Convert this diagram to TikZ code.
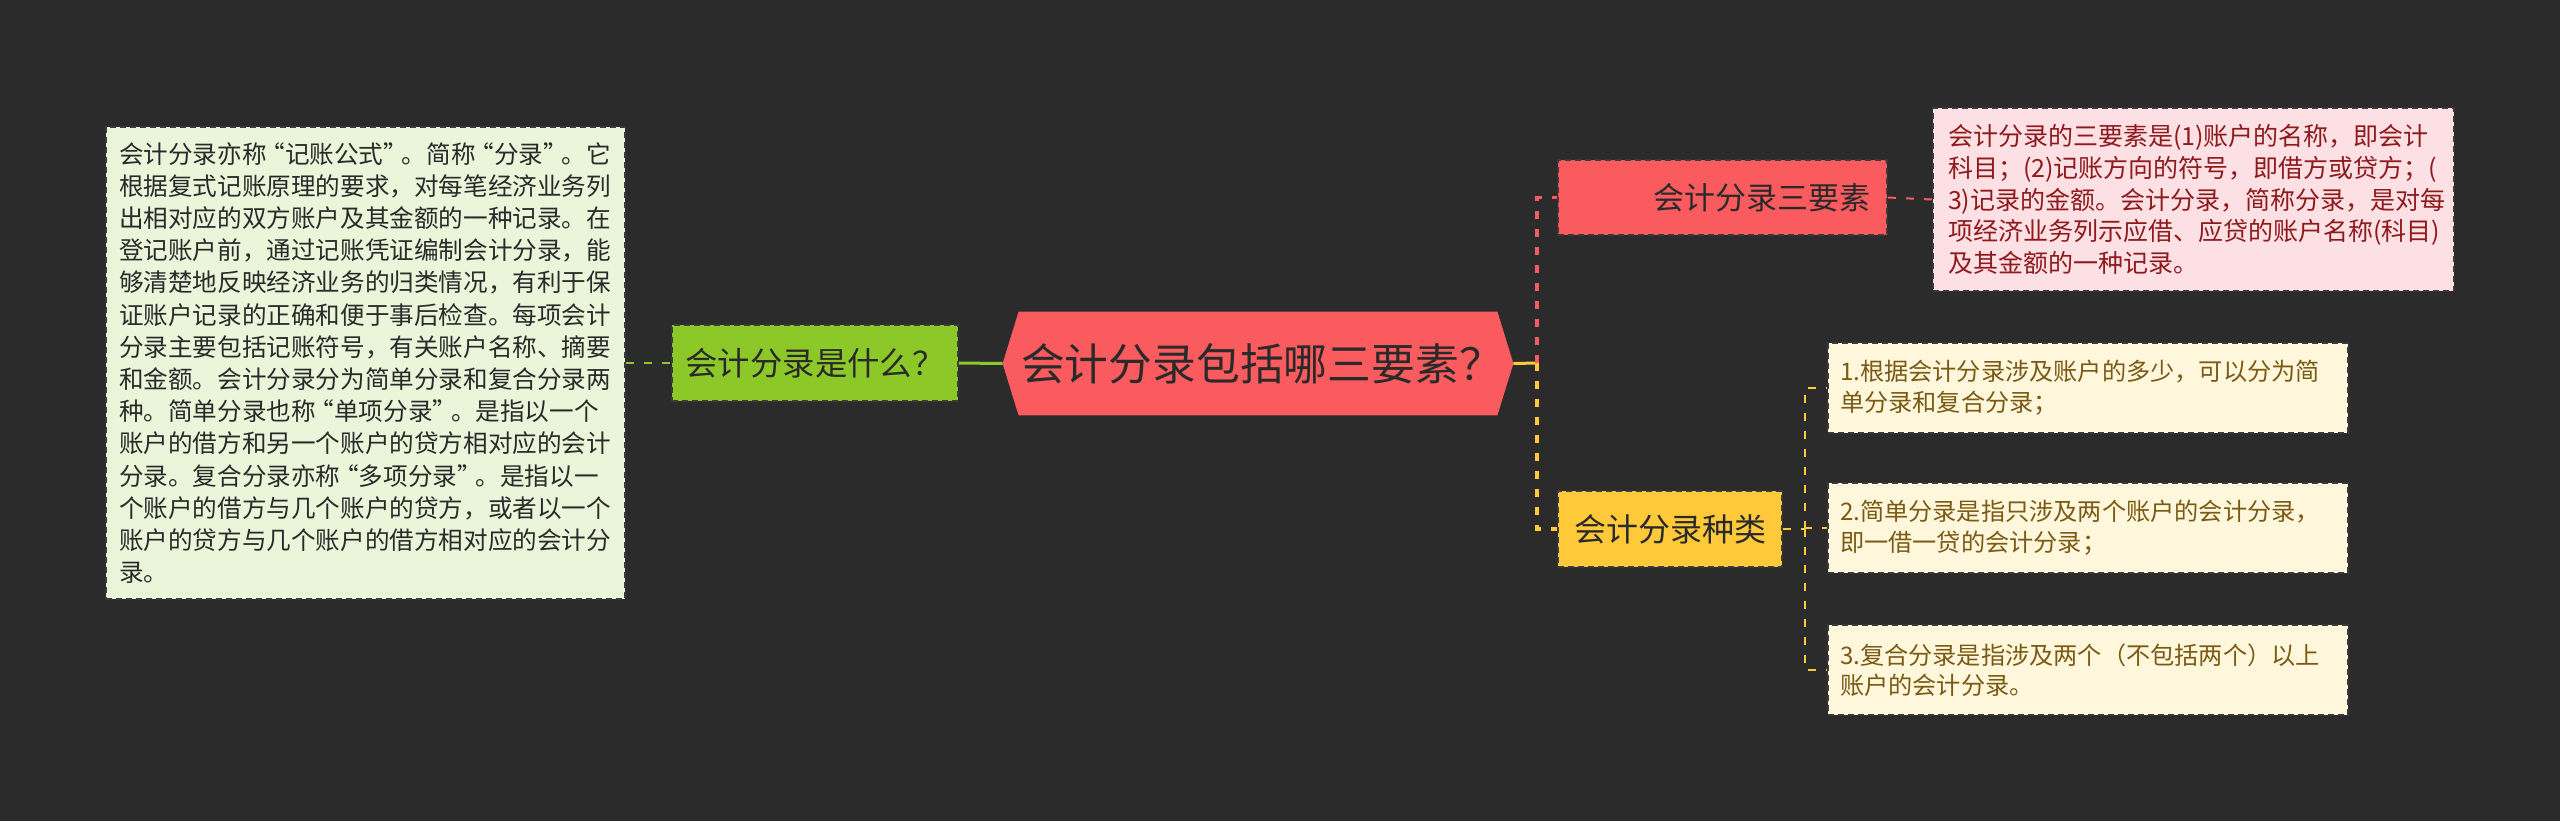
\documentclass[tikz,border=0pt]{standalone}
\usepackage{fontspec}
\newfontfamily\cjk{Noto Sans CJK SC}
\usepackage{tikz}
\usetikzlibrary{backgrounds}
\definecolor{bgdark}{HTML}{2B2B2B}
\definecolor{edgeline}{HTML}{3A3A3A}
\definecolor{rootred}{HTML}{FA5B5F}
\definecolor{leafgreen}{HTML}{8BC828}
\definecolor{gold}{HTML}{FFC93A}
\definecolor{greennote}{HTML}{EAF5DA}
\definecolor{pinknote}{HTML}{FCE0E3}
\definecolor{pinktext}{HTML}{8E1A1E}
\definecolor{beigenote}{HTML}{FFF7DC}
\definecolor{beigetext}{HTML}{7A5A14}
\definecolor{darktext}{HTML}{2A2A2A}
\newcommand{\oq}{\makebox[0.75em][r]{“}}
\newcommand{\cq}{\makebox[0.75em][l]{”}}
\tikzset{
  topic/.style = {draw=edgeline, dashed, dash pattern=on 3pt off 2pt, line width=0.8pt,
                  text=darktext, inner sep=0pt, align=center},
  note/.style  = {topic, align=left, inner ysep=0pt},
  lnk/.style   = {line width=1pt, dash pattern=on 4pt off 5pt},
  solidlnk/.style = {line width=1.5pt}
}

\begin{document}
\begin{tikzpicture}[x=0.5pt, y=-0.5pt]
  \begin{scope}[on background layer]
    \fill[bgdark] (0,0) rectangle (2560,821);
  \end{scope}
  \useasboundingbox (0,0) rectangle (2560,821);

  % central topic
  \node[inner sep=0pt, minimum width=255pt, minimum height=51.5pt, text=darktext,
        font=\cjk\fontsize{21.9pt}{26pt}\selectfont] (root) at (1258,363.5)
       {\hspace*{4pt}会计分录包括哪三要素？};

  % left branch
  \node[topic, fill=leafgreen, minimum width=143pt, minimum height=38pt,
        font=\cjk\fontsize{16.2pt}{19pt}\selectfont] (what) at (815,363) {会计分录是什么？};
  \node[note, fill=greennote, text=darktext, minimum width=259.5pt, minimum height=236pt,
        inner xsep=6.5pt, text width=246.5pt,
        font=\cjk\fontsize{12.3pt}{16.1pt}\selectfont] (whatnote) at (365.5,363)
       {会计分录亦称\oq 记账公式\cq 。简称\oq 分录\cq 。它\\
        根据复式记账原理的要求，对每笔经济业务列\\
        出相对应的双方账户及其金额的一种记录。在\\
        登记账户前，通过记账凭证编制会计分录，能\\
        够清楚地反映经济业务的归类情况，有利于保\\
        证账户记录的正确和便于事后检查。每项会计\\
        分录主要包括记账符号，有关账户名称、摘要\\
        和金额。会计分录分为简单分录和复合分录两\\
        种。简单分录也称\oq 单项分录\cq 。是指以一个\\
        账户的借方和另一个账户的贷方相对应的会计\\
        分录。复合分录亦称\oq 多项分录\cq 。是指以一\\
        个账户的借方与几个账户的贷方，或者以一个\\
        账户的贷方与几个账户的借方相对应的会计分\\
        录。};

  % right branches
  \node[topic, fill=rootred, minimum width=164.5pt, minimum height=37.5pt,
        inner xsep=8.5pt, text width=147.5pt, align=right,
        font=\cjk\fontsize{15.5pt}{18pt}\selectfont] (three) at (1722.5,197.5) {会计分录三要素};
  \node[note, fill=pinknote, text=pinktext, minimum width=260.5pt, minimum height=91.5pt,
        inner xsep=7.5pt, text width=245.5pt,
        font=\cjk\fontsize{12.5pt}{15.9pt}\selectfont] (threenote) at (2193.5,199.5)
       {会计分录的三要素是(1)账户的名称，即会计\\
        科目；(2)记账方向的符号，即借方或贷方；(\\
        3)记录的金额。会计分录，简称分录，是对每\\
        项经济业务列示应借、应贷的账户名称(科目)\\
        及其金额的一种记录。};

  \node[topic, fill=gold, minimum width=112pt, minimum height=38pt,
        font=\cjk\fontsize{16pt}{19pt}\selectfont] (kinds) at (1670,529) {会计分录种类};
  \node[note, fill=beigenote, text=beigetext, minimum width=260pt, minimum height=45pt,
        inner xsep=6pt, text width=248pt,
        font=\cjk\fontsize{12.1pt}{15.3pt}\selectfont] (k1) at (2088,388)
       {1.根据会计分录涉及账户的多少，可以分为简\\单分录和复合分录；};
  \node[note, fill=beigenote, text=beigetext, minimum width=260pt, minimum height=45pt,
        inner xsep=6pt, text width=248pt,
        font=\cjk\fontsize{12.1pt}{15.3pt}\selectfont] (k2) at (2088,528)
       {2.简单分录是指只涉及两个账户的会计分录，\\即一借一贷的会计分录；};
  \node[note, fill=beigenote, text=beigetext, minimum width=260pt, minimum height=45pt,
        inner xsep=6pt, text width=248pt,
        font=\cjk\fontsize{12.1pt}{15.3pt}\selectfont] (k3) at (2088,670)
       {3.复合分录是指涉及两个（不包括两个）以上\\账户的会计分录。};

  % connectors
  \coordinate (fork) at (1537,363);
  \coordinate (kfork) at (1805,529);
  \draw[lnk, leafgreen] (whatnote.east) -- (what.west);
  \draw[solidlnk, leafgreen] (what.east) -- (root.west);
  \draw[solidlnk, gold] (root.east) -- (fork);
  \draw[lnk, rootred, line width=1.6pt] (fork) |- (three.west);
  \draw[lnk, gold, line width=1.6pt] (fork) |- (kinds.west);
  \draw[lnk, rootred] (three.east) -- (threenote.west);
  \draw[lnk, gold] (kinds.east) -- (kfork);
  \foreach \k in {k1,k2,k3}
    \draw[lnk, gold] (kfork) |- (\k.west);

  \begin{scope}[on background layer]
    \fill[rootred] (root.west) -- ([xshift=8pt]root.north west) -- ([xshift=-8pt]root.north east)
      -- (root.east) -- ([xshift=-8pt]root.south east) -- ([xshift=8pt]root.south west) -- cycle;
  \end{scope}
\end{tikzpicture}
\end{document}
